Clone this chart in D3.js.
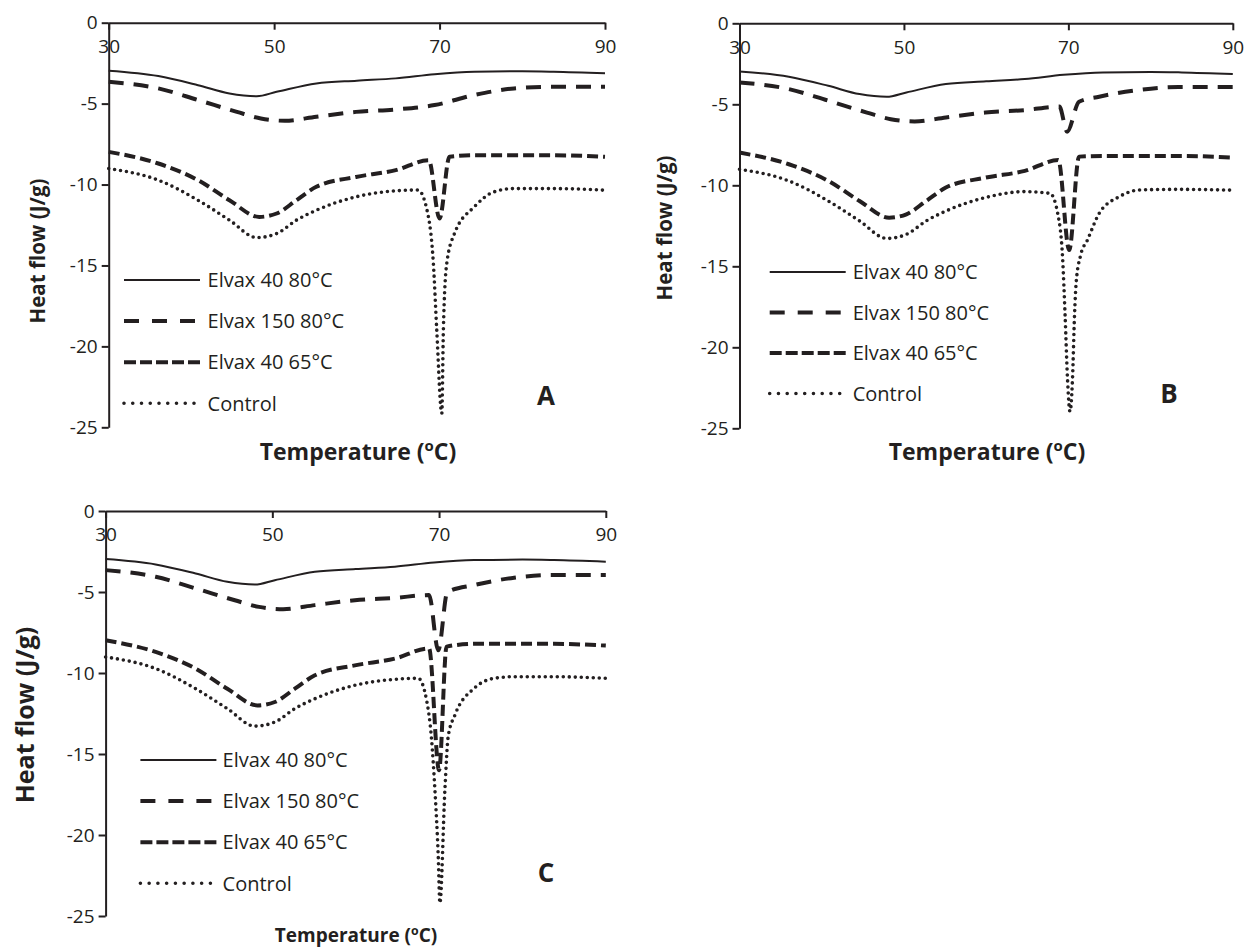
<!DOCTYPE html>
<html>
<head>
<meta charset="utf-8">
<script src="https://cdn.jsdelivr.net/npm/d3@7"></script>
<style>
  html, body { margin: 0; padding: 0; background: #fff; }
  svg { display: block; }
  text { font-family: "Open Sans", "Noto Sans", sans-serif; fill: #231f20; }
</style>
</head>
<body>
<svg id="chart" width="1246" height="951"></svg>
<script>
// ---------------- DATA ----------------
const xTicks = [30, 50, 70, 90];
const yTicks = [0, -5, -10, -15, -20, -25];
const seriesNames = ["Elvax 40 80°C", "Elvax 150 80°C", "Elvax 40 65°C", "Control"];
const panelLetters = ["A", "B", "C"];

// Elvax 40 80°C (same in all panels)
const e40_80_T = [30, 36, 40.8, 44.6, 47.9, 50.3, 55.1, 60, 64.7, 69.4, 74.2, 80, 83.8, 90];
const e40_80_V = [-2.97, -3.30, -3.86, -4.37, -4.54, -4.27, -3.75, -3.58, -3.44, -3.18, -3.03, -3.0, -3.03, -3.13];

// Elvax 150 80°C
const e150_A_T = [30, 36, 40.8, 45.5, 48.4, 51.3, 55.1, 59.9, 64.7, 69.4, 74.2, 79, 83.8, 90];
const e150_A_V = [-3.65, -4.06, -4.78, -5.51, -5.92, -6.06, -5.81, -5.51, -5.36, -5.09, -4.47, -4.06, -3.96, -3.96];
const e150_B_T = [30, 36, 40.8, 45.5, 48.4, 51.3, 55.1, 59.9, 64.7, 68.9, 69.85, 71.3, 73.75, 78.6, 83.4, 90];
const e150_B_V = [-3.65, -4.06, -4.78, -5.51, -5.92, -6.06, -5.81, -5.51, -5.36, -5.14, -6.69, -4.84, -4.53, -4.12, -3.93, -3.93];
const e150_C_T = [30, 36, 40.8, 45.5, 48.4, 51.3, 55.1, 59.9, 64.7, 68.8, 69.9, 71.0, 74.2, 79, 83.7, 90];
const e150_C_V = [-3.65, -4.06, -4.78, -5.51, -5.92, -6.06, -5.81, -5.51, -5.36, -5.19, -8.6, -5.0, -4.57, -4.12, -3.95, -3.95];

// Elvax 40 65°C
const e40_65_A_T = [30, 36, 40.8, 44.6, 48.2, 50.3, 52.7, 55.1, 59.9, 64.7, 68.7, 70.0, 71.2, 74.2, 83.8, 90];
const e40_65_A_V = [-7.98, -8.70, -9.73, -10.97, -12.0, -11.79, -10.97, -10.14, -9.53, -9.11, -8.5, -12.1, -8.28, -8.19, -8.19, -8.29];
const e40_65_B_T = [30, 36, 40.8, 44.6, 48.2, 50.3, 52.7, 55.1, 59.9, 64.7, 68.78, 70.1, 71.3, 74.2, 83.8, 90];
const e40_65_B_V = [-7.98, -8.70, -9.73, -10.97, -12.0, -11.79, -10.97, -10.14, -9.53, -9.11, -8.44, -14.0, -8.23, -8.19, -8.19, -8.29];
const e40_65_C_T = [30, 36, 40.8, 44.6, 48.2, 50.3, 52.7, 55.1, 59.9, 64.7, 68.8, 70.0, 70.9, 74.2, 83.8, 90];
const e40_65_C_V = [-7.98, -8.70, -9.73, -10.97, -12.0, -11.79, -10.97, -10.14, -9.53, -9.11, -8.48, -16.0, -8.37, -8.2, -8.2, -8.31];

// Control
const ctrl_A_T = [30, 36, 40.8, 44.6, 47.9, 50.3, 52.7, 55.1, 59.9, 64.7, 67.4, 68.65, 69.25, 69.66, 70.27, 70.46, 70.87, 71.8, 74.2, 76.6, 79, 83.8, 90];
const ctrl_A_V = [-9.01, -9.73, -10.97, -12.2, -13.28, -13.03, -12.2, -11.59, -10.76, -10.39, -10.34, -11.99, -14.87, -18.99, -24.14, -18.99, -14.87, -13.03, -11.38, -10.45, -10.25, -10.25, -10.35];
const ctrl_B_T = [30, 36, 40.8, 44.6, 47.9, 50.3, 52.7, 55.1, 59.9, 64.7, 67.77, 68.78, 69.3, 69.6, 69.9, 70.2, 70.5, 70.75, 70.95, 71.5, 72.3, 73.75, 76.2, 78.6, 83.4, 90];
const ctrl_B_V = [-9.01, -9.73, -10.97, -12.2, -13.28, -13.03, -12.2, -11.59, -10.76, -10.39, -10.5, -11.94, -14.5, -18.0, -22.0, -23.97, -22.0, -18.0, -16.0, -14.3, -13.4, -11.73, -10.7, -10.29, -10.25, -10.3];
const ctrl_C_T = [30, 36, 40.8, 44.6, 47.9, 50.3, 52.7, 55.1, 59.9, 64.7, 67.5, 68.5, 69.1, 69.5, 69.9, 70.1, 70.7, 71.1, 71.9, 74.2, 76.6, 79, 83.8, 90];
const ctrl_C_V = [-9.01, -9.73, -10.97, -12.2, -13.28, -13.03, -12.2, -11.59, -10.76, -10.39, -10.33, -11.67, -14.1, -17.2, -21.3, -24.2, -17.2, -13.9, -12.6, -10.95, -10.33, -10.23, -10.23, -10.33];

// ---------------- STYLES / LAYOUT ----------------
const ink = "#231f20";
const styles = [
  { width: 2,   dash: null,     legendDash: null,     cap: "butt"  },
  { width: 4,   dash: "15,10",  legendDash: "15,13",  cap: "butt"  },
  { width: 4,   dash: "11,5",   legendDash: "12,4",   cap: "butt"  },
  { width: 3.6, dash: "0,6",    legendDash: "0,8.75", cap: "round" }
];

const panels = [
  { letter: panelLetters[0], xr: [108.7, 605], yr: [22.7, 427.3],
    series: [[e40_80_T, e40_80_V], [e150_A_T, e150_A_V], [e40_65_A_T, e40_65_A_V], [ctrl_A_T, ctrl_A_V]],
    leg: { x: 124, y0: 280, dy: 41.1, text: 207.6 },
    letterPos: [546, 405], xLab: { x: 358, y: 460, size: 23 }, yLab: { x: 38, y: 251, size: 20.5 } },
  { letter: panelLetters[1], xr: [739.5, 1232.8], yr: [23.3, 428.3],
    series: [[e40_80_T, e40_80_V], [e150_B_T, e150_B_V], [e40_65_B_T, e40_65_B_V], [ctrl_B_T, ctrl_B_V]],
    leg: { x: 769.7, y0: 272, dy: 40.5, text: 852.7 },
    letterPos: [1169, 403], xLab: { x: 987, y: 460, size: 23 }, yLab: { x: 665, y: 228, size: 20.5 } },
  { letter: panelLetters[2], xr: [105.6, 605.8], yr: [511, 916],
    series: [[e40_80_T, e40_80_V], [e150_C_T, e150_C_V], [e40_65_C_T, e40_65_C_V], [ctrl_C_T, ctrl_C_V]],
    leg: { x: 140.4, y0: 760, dy: 41.1, text: 222.6 },
    letterPos: [546, 882], xLab: { x: 356, y: 942, size: 19 }, yLab: { x: 25, y: 715, size: 25 } }
];

const svg = d3.select("#chart");

panels.forEach(p => {
  const g = svg.append("g");
  const x = d3.scaleLinear().domain([30, 90]).range(p.xr);
  const y = d3.scaleLinear().domain([0, -25]).range(p.yr);

  // curves
  const line = d3.line().x(d => x(d[0])).y(d => y(d[1])).curve(d3.curveMonotoneX);
  p.series.forEach((s, i) => {
    const pts = s[0].map((t, k) => [t, s[1][k]]);
    const st = styles[i];
    g.append("path").datum(pts)
      .attr("d", line)
      .attr("fill", "none")
      .attr("stroke", ink)
      .attr("stroke-width", st.width)
      .attr("stroke-linecap", st.cap)
      .attr("stroke-linejoin", "round")
      .attr("stroke-dasharray", st.dash);
  });

  // x axis along y = 0 (top)
  const gx = g.append("g").attr("transform", `translate(0,${y(0)})`)
    .call(d3.axisBottom(x).tickValues(xTicks).tickSize(7).tickSizeOuter(0).tickPadding(10).tickFormat(d => String(d)));
  // y axis
  const gy = g.append("g").attr("transform", `translate(${x(30)},0)`)
    .call(d3.axisLeft(y).tickValues(yTicks).tickSize(7).tickSizeOuter(0).tickPadding(4).tickFormat(d => String(d)));
  [gx, gy].forEach(a => {
    a.selectAll("path, line").attr("stroke", ink).attr("stroke-width", 2);
    a.selectAll("text").attr("fill", ink).style("font-size", "19px")
      .style("font-family", '"Open Sans", "Noto Sans", sans-serif');
  });

  // legend
  seriesNames.forEach((name, i) => {
    const ly = p.leg.y0 + i * p.leg.dy;
    const st = styles[i];
    g.append("line")
      .attr("x1", p.leg.x).attr("x2", p.leg.x + 76)
      .attr("y1", ly).attr("y2", ly)
      .attr("stroke", ink).attr("stroke-width", st.width)
      .attr("stroke-linecap", st.cap)
      .attr("stroke-dasharray", st.legendDash);
    g.append("text").attr("x", p.leg.text).attr("y", ly).attr("dy", "0.36em")
      .style("font-size", "20px").text(name);
  });

  // panel letter
  g.append("text").attr("x", p.letterPos[0]).attr("y", p.letterPos[1])
    .attr("text-anchor", "middle").style("font-size", "26px").style("font-weight", "bold")
    .text(p.letter);

  // x label
  const xl = g.append("text").attr("x", p.xLab.x).attr("y", p.xLab.y)
    .attr("text-anchor", "middle").style("font-size", p.xLab.size + "px").style("font-weight", "bold");
  xl.append("tspan").text("Temperature (");
  xl.append("tspan").attr("dy", -p.xLab.size * 0.38).style("font-size", (p.xLab.size * 0.65) + "px").text("o");
  xl.append("tspan").attr("dy", p.xLab.size * 0.38).text("C)");

  // y label
  g.append("text")
    .attr("transform", `translate(${p.yLab.x},${p.yLab.y}) rotate(-90)`)
    .attr("text-anchor", "middle").attr("dy", "0.36em")
    .style("font-size", p.yLab.size + "px").style("font-weight", "bold")
    .text("Heat flow (J/g)");
});
</script>
</body>
</html>
